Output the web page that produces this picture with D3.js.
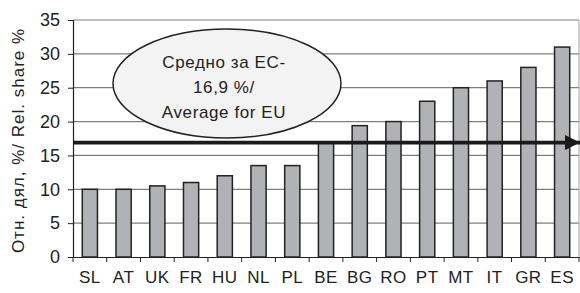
<!DOCTYPE html>
<html>
<head>
<meta charset="utf-8">
<script src="https://cdn.jsdelivr.net/npm/d3@7"></script>
<style>
  body { margin: 0; background: #fff; }
  svg { display: block; font-family: "Liberation Sans", Arial, sans-serif; }
</style>
</head>
<body>
<svg id="chart" width="580" height="293"></svg>
<script>
// data
const countries = ["SL", "AT", "UK", "FR", "HU", "NL", "PL", "BE", "BG", "RO", "PT", "MT", "IT", "GR", "ES"];
const shares = [10, 10, 10.5, 11, 12, 13.5, 13.5, 17, 19.4, 20, 23, 25, 26, 28, 31];
const yTicks = [0, 5, 10, 15, 20, 25, 30, 35];
const euAverage = 16.9;
const noteLines = ["Средно за ЕС-", "16,9 %/", "Average for EU"];
const yLabel = "Отн. дял, %/ Rel. share %";

const svg = d3.select("#chart");
const plotLeft = 73, plotRight = 579, plotTop = 20, plotBottom = 257;

const x = d3.scaleBand().domain(countries).range([plotLeft, plotRight])
  .paddingInner(0.55).paddingOuter(0.275);
const y = d3.scaleLinear().domain([0, 35]).range([plotBottom, plotTop]);

// gridlines
svg.append("g")
  .selectAll("line")
  .data(yTicks.filter(d => d > 0))
  .join("line")
  .attr("x1", plotLeft).attr("x2", plotRight)
  .attr("y1", d => y(d)).attr("y2", d => y(d))
  .attr("stroke", "#7f7f7f")
  .attr("stroke-width", 1.2);

// right border
svg.append("line")
  .attr("x1", plotRight).attr("x2", plotRight)
  .attr("y1", plotTop).attr("y2", plotBottom)
  .attr("stroke", "#a0a0a0");

// bars
svg.append("g")
  .selectAll("rect")
  .data(countries)
  .join("rect")
  .attr("x", d => x(d))
  .attr("width", x.bandwidth())
  .attr("y", (d, i) => y(shares[i]))
  .attr("height", (d, i) => plotBottom - y(shares[i]))
  .attr("fill", "#b1b2b6")
  .attr("stroke", "#222")
  .attr("stroke-width", 1.5);

// y axis
const yAxis = svg.append("g")
  .attr("transform", `translate(${plotLeft},0)`)
  .call(d3.axisLeft(y).tickValues(yTicks).tickSize(5).tickPadding(8));
yAxis.select(".domain").attr("stroke", "#222").attr("stroke-width", 1.2);
yAxis.selectAll(".tick line").attr("stroke", "#222");
yAxis.selectAll("text").attr("font-size", 18).attr("fill", "#222")
  .attr("font-family", "Liberation Sans, Arial, sans-serif");

// x axis
const xAxis = svg.append("g")
  .attr("transform", `translate(0,${plotBottom})`)
  .call(d3.axisBottom(x).tickSize(0).tickPadding(14));
xAxis.select(".domain").attr("stroke", "#222").attr("stroke-width", 1.2);
xAxis.selectAll("text").attr("font-size", 17).attr("fill", "#222")
  .attr("letter-spacing", 0.5)
  .attr("font-family", "Liberation Sans, Arial, sans-serif");

// category separator ticks
const step = x.step();
svg.append("g")
  .selectAll("line")
  .data(d3.range(countries.length + 1))
  .join("line")
  .attr("x1", i => plotLeft + i * step).attr("x2", i => plotLeft + i * step)
  .attr("y1", plotBottom).attr("y2", plotBottom + 5)
  .attr("stroke", "#222");

// y label
svg.append("text")
  .attr("transform", `translate(24,${(plotTop + plotBottom) / 2 + 2}) rotate(-90)`)
  .attr("text-anchor", "middle")
  .attr("font-size", 17)
  .attr("letter-spacing", 1)
  .attr("fill", "#222")
  .text(yLabel);

// average arrow
svg.append("defs").append("marker")
  .attr("id", "arrow")
  .attr("viewBox", "0 0 10 10")
  .attr("refX", 10).attr("refY", 5)
  .attr("markerWidth", 4).attr("markerHeight", 4)
  .attr("markerUnits", "strokeWidth")
  .attr("orient", "auto")
  .append("path")
  .attr("d", "M0,0 L10,5 L0,10 Z")
  .attr("fill", "#1a1a1a");

svg.append("line")
  .attr("x1", plotLeft).attr("x2", 580)
  .attr("y1", y(euAverage)).attr("y2", y(euAverage))
  .attr("stroke", "#1a1a1a")
  .attr("stroke-width", 3.8)
  .attr("marker-end", "url(#arrow)");

// callout ellipse
svg.append("ellipse")
  .attr("cx", 227).attr("cy", 83.5)
  .attr("rx", 114).attr("ry", 54.5)
  .attr("fill", "#f3f3f3")
  .attr("stroke", "#222")
  .attr("stroke-width", 1.5);

svg.append("g")
  .selectAll("text")
  .data(noteLines)
  .join("text")
  .attr("x", 224)
  .attr("y", (d, i) => 62 + i * 25)
  .attr("dy", "0.35em")
  .attr("text-anchor", "middle")
  .attr("font-size", 17)
  .attr("letter-spacing", 0.6)
  .attr("fill", "#222")
  .text(d => d);
</script>
</body>
</html>
